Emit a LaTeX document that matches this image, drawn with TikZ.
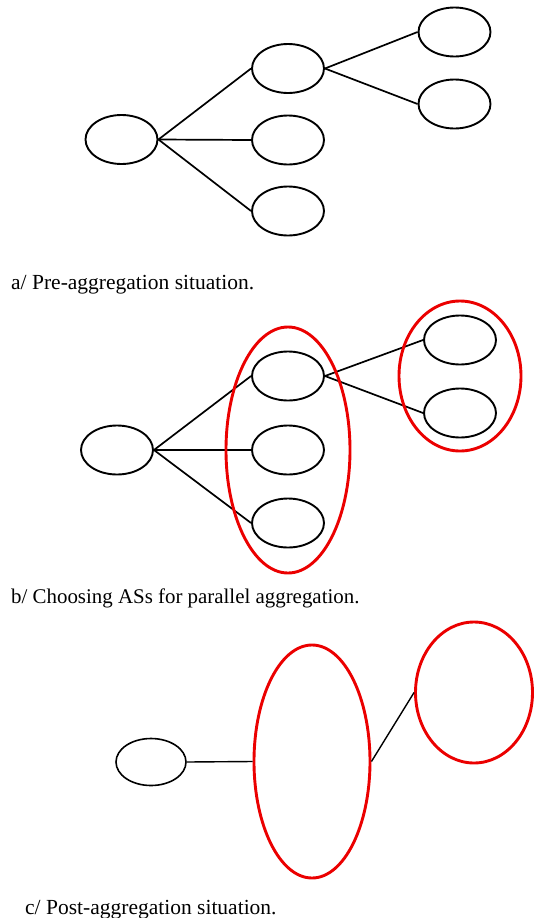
\documentclass[tikz,border=0pt]{standalone}
\usepackage{fontspec}
\setmainfont{Liberation Serif}
\usetikzlibrary{shapes.geometric}
\begin{document}
\begin{tikzpicture}[x=1bp,y=-1bp,
  asnode/.style={ellipse,draw=black,line width=1.9bp,minimum width=72bp,minimum height=49bp,inner sep=0pt},
  agg/.style={ellipse,draw=red!92!black,line width=2.9bp,inner sep=0pt},
  link/.style={draw=black,line width=1.7bp},
  caption/.style={anchor=base west,inner sep=0pt,font=\fontsize{21.5bp}{25bp}\selectfont}]
\useasboundingbox (0,0) rectangle (534,918);
% a
\node[asnode] (a0) at (121.5,139.5) {};
\node[asnode] (a1) at (288,68.5) {};
\node[asnode] (a2) at (288,140) {};
\node[asnode] (a3) at (288,211) {};
\node[asnode] (a4) at (454.5,32) {};
\node[asnode] (a5) at (454.5,104) {};
\draw[link] (a0.east) -- (a1.west);
\draw[link] (a0.east) -- (a2.west);
\draw[link] (a0.east) -- (a3.west);
\draw[link] (a1.east) -- (a4.west);
\draw[link] (a1.east) -- (a5.west);
\node[caption] (capa) at (11,289) {a/ Pre-aggregation situation.};
% b
\node[asnode] (b0) at (117,450) {};
\node[asnode] (b1) at (288,376) {};
\node[asnode] (b2) at (288,450) {};
\node[asnode] (b3) at (288,523) {};
\node[asnode] (b4) at (460,340) {};
\node[asnode] (b5) at (460,413) {};
\draw[link] (b0.east) -- (b1.west);
\draw[link] (b0.east) -- (b2.west);
\draw[link] (b0.east) -- (b3.west);
\draw[link] (b1.east) -- (b4.west);
\draw[link] (b1.east) -- (b5.west);
\node[agg,minimum width=124bp,minimum height=246bp] (bg1) at (288,450) {};
\node[agg,minimum width=122bp,minimum height=150bp] (bg2) at (460,376) {};
\node[caption,font=\fontsize{20.9bp}{25bp}\selectfont] (capb) at (11,603) {b/ Choosing ASs for parallel aggregation.};
% c
\node[asnode,line width=1.6bp,minimum width=70bp,minimum height=47bp] (c0) at (151,762) {};
\node[agg,minimum width=116bp,minimum height=233bp] (c1) at (312,761.5) {};
\node[agg,minimum width=117bp,minimum height=141bp] (c2) at (474,692.5) {};
\draw[link,line width=1.4bp] (c0.east) -- (c1.west);
\draw[link,line width=1.4bp] (c1.east) -- (c2.west);
\node[caption] (capc) at (25,914) {c/ Post-aggregation situation.};
\end{tikzpicture}
\end{document}
